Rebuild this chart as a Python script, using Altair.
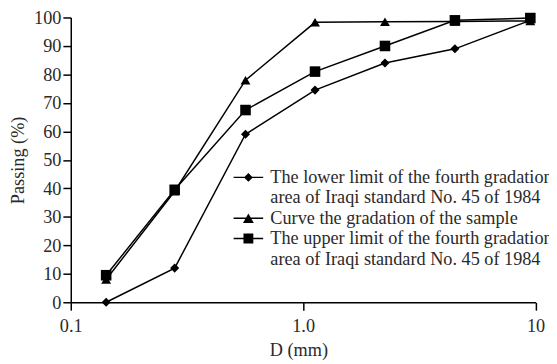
import altair as alt
import pandas as pd

# Sieve size (mm) and percent passing
sizes = [0.142, 0.28, 0.565, 1.125, 2.25, 4.5, 9.5]
lower = [0, 12, 59, 74.5, 84, 89, 99]
sample = [8, 39, 78, 98.3, 98.5, 98.6, 98.8]
upper = [9.5, 39.5, 67.5, 81, 90, 99, 99.8]

series = [
    "The lower limit of the fourth gradation|area of Iraqi standard No. 45 of 1984",
    "Curve the gradation of the sample",
    "The upper limit of the fourth gradation|area of Iraqi standard No. 45 of 1984",
]
marker_shapes = ["diamond", "triangle-up", "square"]
marker_sizes = [85, 115, 100]
# legend glyphs: a short line with the marker on it (unit = 5 px)
legend_paths = [
    "M-3,-0.15H3V0.15H-3ZM-0.9,0L0,-0.9L0.9,0L0,0.9Z",
    "M-3,-0.15H3V0.15H-3ZM-1.1,0.95L0,-0.95L1.1,0.95Z",
    "M-3,-0.15H3V0.15H-3ZM-1,-1H1V1H-1Z",
]

rows = []
for name, vals in zip(series, [lower, sample, upper]):
    for d, p in zip(sizes, vals):
        rows.append({"D": d, "P": p, "S": name})
df = pd.DataFrame(rows)

FONT = "Liberation Serif"
FS = 18.5
TXT = "#2a2a2a"

x = alt.X(
    "D:Q",
    scale=alt.Scale(type="log", domain=[0.1, 10]),
    axis=alt.Axis(
        values=[0.1, 1, 10],
        labelExpr="datum.value == 1 ? '1.0' : (datum.value < 0.5 ? '0.1' : '10')",
        labelFlush=False,
        title="D (mm)",
        grid=False,
        tickSize=8,
        labelPadding=7,
        titlePadding=6,
        titleX=231,
    ),
)
y = alt.Y(
    "P:Q",
    scale=alt.Scale(domain=[0, 100]),
    axis=alt.Axis(
        values=list(range(0, 101, 10)),
        title="Passing (%)",
        grid=False,
        tickSize=8,
        labelPadding=2,
        titlePadding=6,
    ),
)

lines = alt.Chart(df).mark_line(color="black", strokeWidth=1.5).encode(
    x=x, y=y, detail="S:N", order="D:Q"
)

points = alt.Chart(df).mark_point(filled=True, color="black", opacity=1).encode(
    x=x,
    y=y,
    shape=alt.Shape("S:N", scale=alt.Scale(domain=series, range=marker_shapes), legend=None),
    size=alt.Size("S:N", scale=alt.Scale(domain=series, range=marker_sizes), legend=None),
)

legend_layer = alt.Chart(df).mark_point(filled=True, color="black", opacity=0).encode(
    x=x,
    y=y,
    shape=alt.Shape(
        "S:N",
        scale=alt.Scale(domain=series, range=legend_paths),
        legend=alt.Legend(
            title=None,
            orient="none",
            legendX=171,
            legendY=153,
            padding=0,
            symbolSize=100,
            symbolOpacity=1,
            symbolFillColor="black",
            symbolStrokeWidth=0,
            labelExpr="split(datum.label, '|')",
            labelFont=FONT,
            labelFontSize=FS,
            labelColor=TXT,
            labelLimit=0,
            labelOffset=13,
            rowPadding=1.5,
        ),
    ),
)

chart = (
    alt.layer(lines, points, legend_layer)
    .resolve_scale(shape="independent")
    .properties(
        width=471.6,
        height=289,
        autosize=alt.AutoSizeParams(type="none"),
        padding={"left": 63.7, "top": 7, "right": 13.7, "bottom": 60},
    )
    .configure_view(stroke=None)
    .configure_axis(
        labelFont=FONT,
        labelFontSize=FS,
        labelColor=TXT,
        titleFont=FONT,
        titleFontSize=FS,
        titleFontWeight="normal",
        titleColor=TXT,
        domainColor="black",
        domainWidth=1.5,
        tickColor="black",
        tickWidth=1.5,
    )
)

chart.save("out.html", embed_options={"renderer": "svg", "actions": False})
